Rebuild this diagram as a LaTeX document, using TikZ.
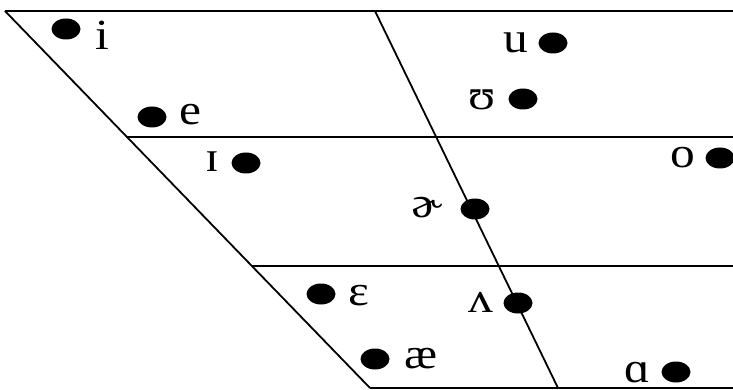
\documentclass[tikz,border=0pt]{standalone}
\usepackage{fontspec}
\setmainfont[FakeStretch=1.15]{Liberation Serif}
\usetikzlibrary{shapes.geometric}
\tikzset{
  punto/.style={fill=black, ellipse, minimum width=29pt, minimum height=21pt, inner sep=0pt},
  vocal/.style={anchor=base, inner sep=0pt, font=\fontsize{43}{50}\selectfont},
  borde/.style={line width=1.8pt}
}
\begin{document}
\begin{tikzpicture}[x=1pt, y=-1pt]
    \useasboundingbox (0,0) rectangle (733,390);

    % Esquinas del trapecio
    \coordinate (TL) at (5,11);
    \coordinate (TC) at (375,11);
    \coordinate (TR) at (733,11);
    \coordinate (ML) at (127,137);
    \coordinate (MR) at (733,137);
    \coordinate (LL) at (252,266);
    \coordinate (LR) at (733,266);
    \coordinate (BL) at (370,388);
    \coordinate (BC) at (558,388);
    \coordinate (BR) at (733,388);

    % Líneas
    \draw[borde] (TL) -- (TR);
    \draw[borde] (ML) -- (MR);
    \draw[borde] (LL) -- (LR);
    \draw[borde] (BL) -- (BR);
    \draw[borde] (TL) -- (BL);
    \draw[borde] (TC) -- (BC);

    % Puntos
    \node[punto] (pi) at (66,29) {};
    \node[punto] (pe) at (152,117) {};
    \node[punto] (pI) at (246,163) {};
    \node[punto] (pu) at (553,43) {};
    \node[punto] (pU) at (523,99) {};
    \node[punto] (po) at (720,158) {};
    \node[punto] (pschwa) at (475,209) {};
    \node[punto] (pE) at (321,294) {};
    \node[punto] (pV) at (518,303) {};
    \node[punto] (pae) at (375,359) {};
    \node[punto] (pA) at (676,372) {};

    % Vocales
    \node[vocal] (li) at (102,50) {i};
    \node[vocal] (le) at (190,125) {e};
    \node[vocal] (lI) at (212,172) {ɪ};
    \node[vocal] (lu) at (516,53) {u};
    \node[vocal] (lU) at (482,110) {ʊ};
    \node[vocal] (lo) at (683,168) {o};
    \node[vocal] (lschwa) at (427,218) {ɚ};
    \node[vocal] (lE) at (359,305) {ɛ};
    \node[vocal] (lV) at (481,312) {ʌ};
    \node[vocal] (lae) at (421,368) {æ};
    \node[vocal] (lA) at (637,382) {ɑ};
\end{tikzpicture}
\end{document}
